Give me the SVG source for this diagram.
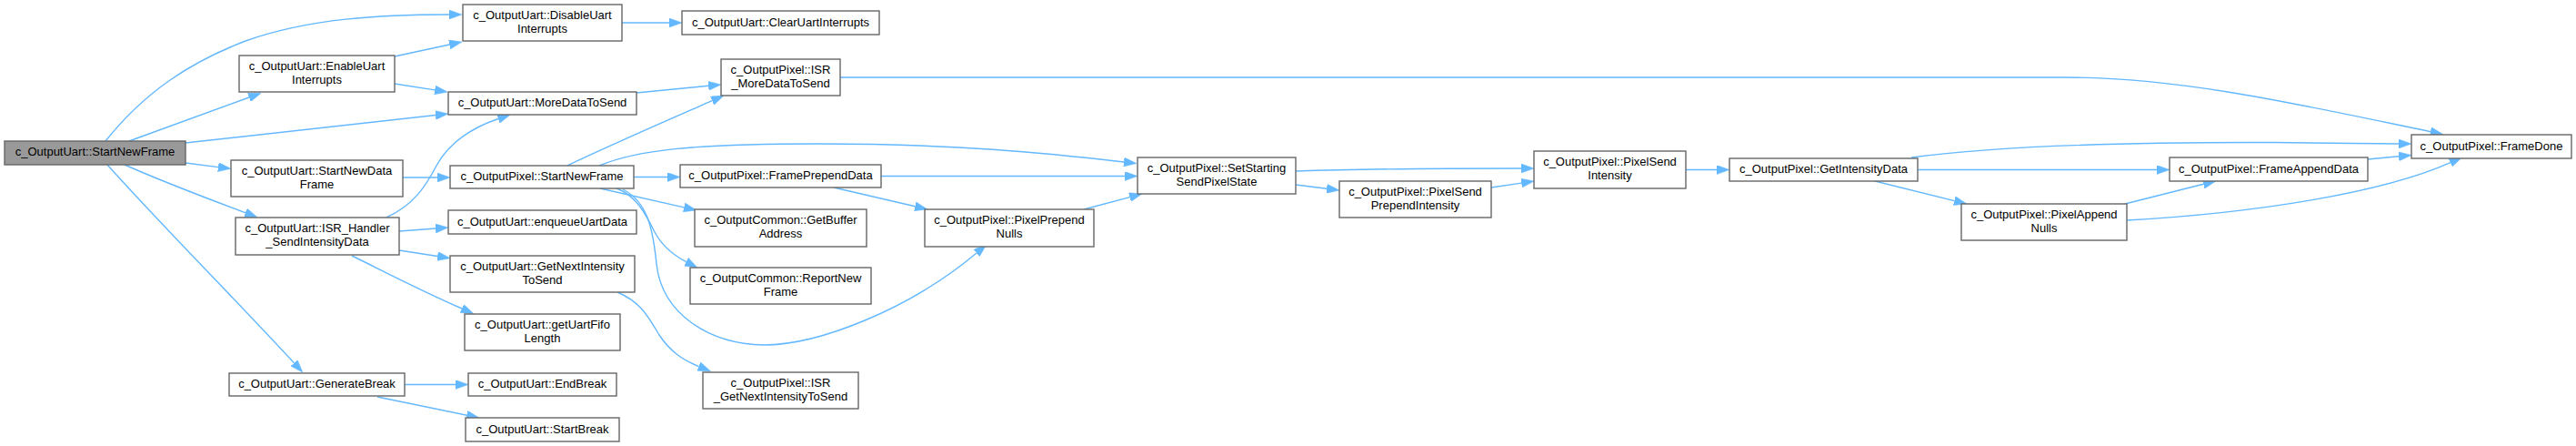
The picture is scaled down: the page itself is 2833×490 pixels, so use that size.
<svg xmlns="http://www.w3.org/2000/svg" width="2833" height="490" viewBox="0 0 2833 490">
<style>
.n rect{fill:#ffffff;stroke:#666666;stroke-width:1.4}
.n.root rect{fill:#999999}
.n text{font-family:"Liberation Sans",Arial,Helvetica,sans-serif;font-size:13px;fill:#000000;text-anchor:middle}
#edges path{fill:none;stroke:#63b8ff;stroke-width:1.4;marker-end:url(#ah)}
</style>
<defs>
<marker id="ah" viewBox="0 0 14 10" refX="0" refY="5" markerWidth="14" markerHeight="10" markerUnits="userSpaceOnUse" orient="auto">
<path d="M0,0 L14,5 L0,10 z" fill="#63b8ff" stroke="#63b8ff" stroke-width="0.5"/>
</marker>
</defs>
<rect width="2833" height="490" fill="#ffffff"/>
<g id="edges">
<path d="M116,155 C160,100 210,68 270,45 C340,20 420,16 494,16"/>
<path d="M142,155 L274,107"/>
<path d="M204,157 L479,126.5"/>
<path d="M204,179 L240,183.6"/>
<path d="M137,181 C180,200 225,217 270,233.8"/>
<path d="M118,181 C180,250 260,330 323.4,398.8"/>
<path d="M434,62 L494.3,49"/>
<path d="M434,92 L478.2,98.9"/>
<path d="M684,25 L736,25"/>
<path d="M700,102 L779.1,94.3"/>
<path d="M443,195 L481,195"/>
<path d="M425,239 C455,225 468,205 480,182 C495,155 520,140 548,130.5"/>
<path d="M439,254 L479,251"/>
<path d="M439,275 L481.2,281.5"/>
<path d="M387,281 C420,297 460,318 508,339"/>
<path d="M445,422.5 L501,422.5"/>
<path d="M415,436 L513.3,456.2"/>
<path d="M679,321 C705,332 713,348 725,368 C737,386 750,395 768.6,402.6"/>
<path d="M624,182 C670,160 730,134 783.2,110.7"/>
<path d="M659,182 C700,165 760,158 900,158 C1050,158 1150,168 1236,178"/>
<path d="M697,194.5 L734,194.5"/>
<path d="M660,207 L752.3,227.9"/>
<path d="M678,207 C700,215 710,235 720,255 C728,270 740,280 754.6,287.6"/>
<path d="M685,208 C712,222 718,250 722,290 C728,345 780,378 840,379 C900,379 1000,340 1074,278"/>
<path d="M969,193.5 L1237,193.5"/>
<path d="M917,206 L1006.4,226.8"/>
<path d="M1192,230 L1242.5,216.6"/>
<path d="M924,85 L2270,85 C2400,85 2530,115 2673,144.7"/>
<path d="M1425,188 C1500,185.5 1600,185 1673,185"/>
<path d="M1425,203 L1459.1,207.3"/>
<path d="M1640,206 L1673.2,201.1"/>
<path d="M1854,186.5 L1888,186.5"/>
<path d="M2102,173 C2200,160 2350,156 2500,156.5 C2570,157 2610,158 2638,158"/>
<path d="M2109,186.5 L2372,186.5"/>
<path d="M2062,199 L2149.4,220.6"/>
<path d="M2604,175 L2638.1,171.8"/>
<path d="M2337,224 L2423.4,202.3"/>
<path d="M2339,242 C2480,234 2620,212 2694.8,178.6"/>
</g>
<g id="n0" class="n root"><rect x="5" y="155" width="199" height="26"/><text x="104.5" y="171">c_OutputUart::StartNewFrame</text></g>
<g id="n1" class="n"><rect x="263" y="61" width="171" height="40"/><text x="348.5" y="77">c_OutputUart::EnableUart</text><text x="348.5" y="91.5">Interrupts</text></g>
<g id="n2" class="n"><rect x="254" y="176" width="189" height="40"/><text x="348.5" y="192">c_OutputUart::StartNewData</text><text x="348.5" y="206.5">Frame</text></g>
<g id="n3" class="n"><rect x="259" y="239" width="180" height="41"/><text x="349" y="255">c_OutputUart::ISR_Handler</text><text x="349" y="269.5">_SendIntensityData</text></g>
<g id="n4" class="n"><rect x="252" y="410" width="193" height="25"/><text x="348.5" y="426">c_OutputUart::GenerateBreak</text></g>
<g id="n5" class="n"><rect x="509" y="5" width="175" height="40"/><text x="596.5" y="21">c_OutputUart::DisableUart</text><text x="596.5" y="35.5">Interrupts</text></g>
<g id="n6" class="n"><rect x="750" y="12" width="217" height="26"/><text x="858.5" y="29">c_OutputUart::ClearUartInterrupts</text></g>
<g id="n7" class="n"><rect x="493" y="101" width="207" height="25"/><text x="596.5" y="117">c_OutputUart::MoreDataToSend</text></g>
<g id="n8" class="n"><rect x="793" y="65" width="131" height="40"/><text x="858.5" y="81">c_OutputPixel::ISR</text><text x="858.5" y="95.5">_MoreDataToSend</text></g>
<g id="n9" class="n"><rect x="495" y="182" width="202" height="25"/><text x="596" y="198">c_OutputPixel::StartNewFrame</text></g>
<g id="n10" class="n"><rect x="748" y="181" width="221" height="25"/><text x="858.5" y="197">c_OutputPixel::FramePrependData</text></g>
<g id="n11" class="n"><rect x="764" y="230" width="189" height="41"/><text x="858.5" y="246">c_OutputCommon::GetBuffer</text><text x="858.5" y="260.5">Address</text></g>
<g id="n12" class="n"><rect x="493" y="231" width="207" height="26"/><text x="596.5" y="248">c_OutputUart::enqueueUartData</text></g>
<g id="n13" class="n"><rect x="495" y="281" width="203" height="40"/><text x="596.5" y="297">c_OutputUart::GetNextIntensity</text><text x="596.5" y="311.5">ToSend</text></g>
<g id="n14" class="n"><rect x="511" y="345" width="171" height="40"/><text x="596.5" y="361">c_OutputUart::getUartFifo</text><text x="596.5" y="375.5">Length</text></g>
<g id="n15" class="n"><rect x="515" y="410" width="163" height="25"/><text x="596.5" y="426">c_OutputUart::EndBreak</text></g>
<g id="n16" class="n"><rect x="512" y="459" width="169" height="26"/><text x="596.5" y="476">c_OutputUart::StartBreak</text></g>
<g id="n17" class="n"><rect x="759" y="294" width="199" height="40"/><text x="858.5" y="310">c_OutputCommon::ReportNew</text><text x="858.5" y="324.5">Frame</text></g>
<g id="n18" class="n"><rect x="773" y="409" width="171" height="40"/><text x="858.5" y="425">c_OutputPixel::ISR</text><text x="858.5" y="439.5">_GetNextIntensityToSend</text></g>
<g id="n19" class="n"><rect x="1251" y="173" width="174" height="40"/><text x="1338" y="189">c_OutputPixel::SetStarting</text><text x="1338" y="203.5">SendPixelState</text></g>
<g id="n20" class="n"><rect x="1017" y="230" width="186" height="41"/><text x="1110" y="246">c_OutputPixel::PixelPrepend</text><text x="1110" y="260.5">Nulls</text></g>
<g id="n21" class="n"><rect x="1473" y="199" width="167" height="40"/><text x="1556.5" y="215">c_OutputPixel::PixelSend</text><text x="1556.5" y="229.5">PrependIntensity</text></g>
<g id="n22" class="n"><rect x="1687" y="166" width="167" height="41"/><text x="1770.5" y="182">c_OutputPixel::PixelSend</text><text x="1770.5" y="196.5">Intensity</text></g>
<g id="n23" class="n"><rect x="1902" y="174" width="207" height="25"/><text x="2005.5" y="190">c_OutputPixel::GetIntensityData</text></g>
<g id="n24" class="n"><rect x="2652" y="148" width="176" height="26"/><text x="2740" y="165">c_OutputPixel::FrameDone</text></g>
<g id="n25" class="n"><rect x="2386" y="173" width="218" height="26"/><text x="2495" y="190">c_OutputPixel::FrameAppendData</text></g>
<g id="n26" class="n"><rect x="2157" y="224" width="182" height="40"/><text x="2248" y="240">c_OutputPixel::PixelAppend</text><text x="2248" y="254.5">Nulls</text></g>
</svg>
